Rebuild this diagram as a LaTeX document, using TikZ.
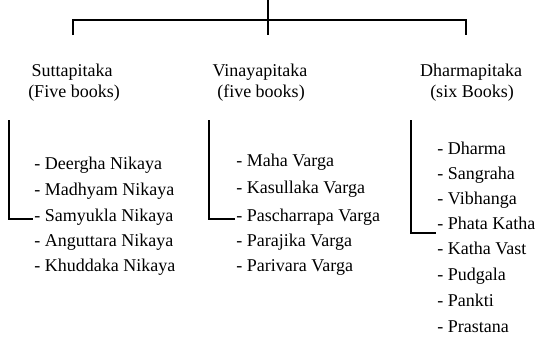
\documentclass[tikz,border=0pt]{standalone}
\usepackage{fontspec}
\setmainfont{Liberation Serif}
\usepackage{tikz}
\usetikzlibrary{calc,positioning}

\begin{document}
\begin{tikzpicture}[x=1pt, y=-1pt, line width=2.8pt,
    head/.style={inner sep=0pt, text height=0.7em, text depth=0.2em, font=\fontsize{18}{21}\selectfont},
    book/.style={anchor=west, inner sep=0pt, text height=0.7em, text depth=0.2em, font=\fontsize{18}{21}\selectfont}]
  \useasboundingbox (0,0) rectangle (535,343);
  \coordinate (top) at (268, 0);
  \coordinate (bar) at (268,20);
  \coordinate (sd)  at ( 73,35);
  \coordinate (vd)  at (268,35);
  \coordinate (dd)  at (466,35);
  \draw (top) -- (vd);
  \draw (sd) |- (bar) -| (dd);

  \node [head] (sutta)  at ( 72,74) {Suttapitaka};
  \node [head] (suttan) at ( 74,95) {(Five books)};
  \node [head] (vinaya)  at (260,74) {Vinayapitaka};
  \node [head] (vinayan) at (261,95) {(five books)};
  \node [head] (dharma)  at (471,74) {Dharmapitaka};
  \node [head] (dharman) at (472,95) {(six Books)};

  \node [book] (s1) at (33,167) {- Deergha Nikaya};
  \node [book] (s2) at (33,193) {- Madhyam Nikaya};
  \node [book] (s3) at (33,219) {- Samyukla Nikaya};
  \node [book] (s4) at (33,244) {- Anguttara Nikaya};
  \node [book] (s5) at (33,269) {- Khuddaka Nikaya};
  \coordinate (sb) at (9,120);
  \draw (sb) |- (s3.west);

  \node [book] (v1) at (235,164) {- Maha Varga};
  \node [book] (v2) at (235,191) {- Kasullaka Varga};
  \node [book] (v3) at (235,219) {- Pascharrapa Varga};
  \node [book] (v4) at (235,244) {- Parajika Varga};
  \node [book] (v5) at (235,269) {- Parivara Varga};
  \coordinate (vb) at (209,120);
  \draw (vb) |- (v3.west);

  \node [book] (d1) at (436,152) {- Dharma};
  \node [book] (d2) at (436,177) {- Sangraha};
  \node [book] (d3) at (436,202) {- Vibhanga};
  \node [book] (d4) at (436,227) {- Phata Katha};
  \node [book] (d5) at (436,252) {- Katha Vast};
  \node [book] (d6) at (436,278) {- Pudgala};
  \node [book] (d7) at (436,304) {- Pankti};
  \node [book] (d8) at (436,330) {- Prastana};
  \coordinate (db) at (411,120);
  \draw (db) |- (d4.south west);
\end{tikzpicture}
\end{document}
